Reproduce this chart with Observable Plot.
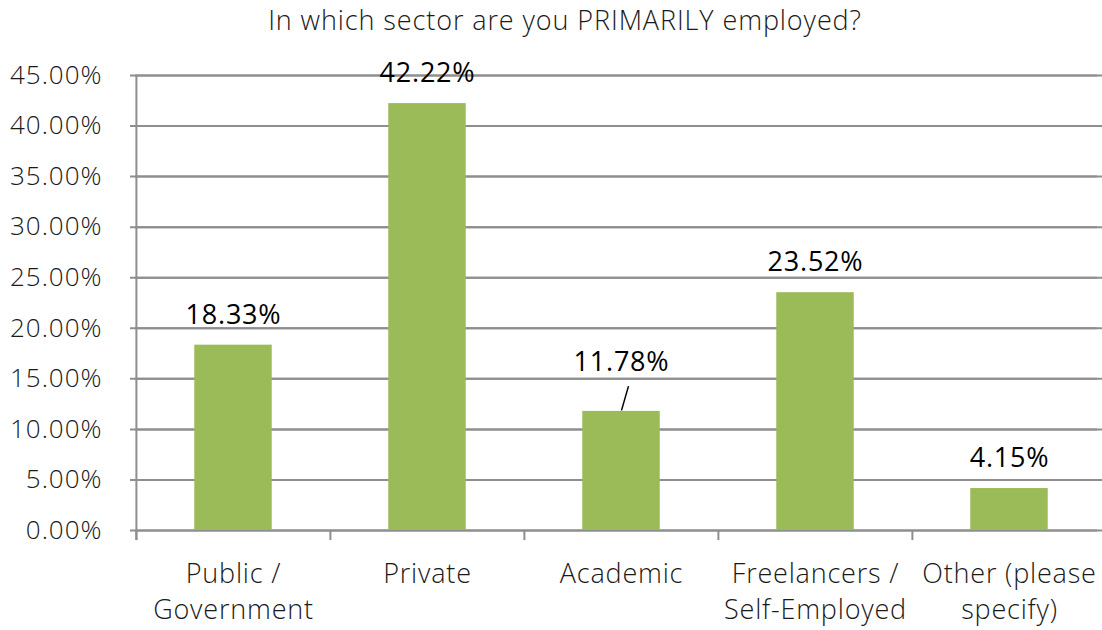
<!DOCTYPE html>
<html><head><meta charset="utf-8">
<script src="https://cdn.jsdelivr.net/npm/d3@7"></script>
<script src="https://cdn.jsdelivr.net/npm/@observablehq/plot@0.6"></script>
<style>
body{margin:0;background:#fff;overflow:hidden;font-family:"Open Sans",sans-serif}
#title{height:48px;line-height:40px;text-align:center;font-size:27px;letter-spacing:0.9px;font-weight:300;color:#1a1a1a;padding-left:28px;box-sizing:border-box;width:1102px;white-space:nowrap}
</style></head><body>
<div id="title">In which sector are you PRIMARILY employed?</div>
<div id="chart"></div>
<script>
const categories = ["Public / Government","Private","Academic","Freelancers / Self-Employed","Other (please specify)"];
const categoryLabels = ["Public /\nGovernment","Private","Academic","Freelancers /\nSelf-Employed","Other (please\nspecify)"];
const values = [18.33,42.22,11.78,23.52,4.15];
const valueLabels = ["18.33%","42.22%","11.78%","23.52%","4.15%"];
const yTicks = [0,5,10,15,20,25,30,35,40,45];
const yTickLabels = ["0.00%","5.00%","10.00%","15.00%","20.00%","25.00%","30.00%","35.00%","40.00%","45.00%"];
const leaderCategory = "Academic";

const data = categories.map((c,i)=>({category:c, value:values[i], label:valueLabels[i], tick:categoryLabels[i]}));
const x0 = 135, x1 = 1106;
const bw = (x1 - x0) / categories.length;
const grid = "#8e8e8e";
const green = "#9bbb59";
const slant = 7;
const slantCurve = (context) => ({
  i: 0,
  areaStart(){}, areaEnd(){},
  lineStart(){ this.i = 0; },
  lineEnd(){},
  point(x, y){ if (this.i++ === 0) context.moveTo(x, y); else context.lineTo(x + slant, y); }
});

const chart = Plot.plot({
  width: 1102, height: 582,
  marginTop: 27, marginBottom: 100, marginLeft: 135, marginRight: 0,
  style: {fontFamily: "'Open Sans', sans-serif", background: "#fff", overflow: "visible"},
  x: {type: "band", domain: categories, range: [x0, x1], padding: 0, axis: null},
  y: {domain: [0, 45], axis: null},
  marks: [
    Plot.ruleY(yTicks, {y: d=>d, stroke: grid, strokeWidth: 2}),
    Plot.tickY(yTicks, {y: d=>d, dx: -5, stroke: grid, strokeWidth: 2, x: null}),
    Plot.barY(data, {x: "category", y: "value", fill: green, insetLeft: bw*0.3, insetRight: bw*0.3}),
    Plot.ruleX(categories, {x: d=>d, dx: -bw/2, y1: 0, y2: -1, stroke: grid, strokeWidth: 2}),
    Plot.ruleX(categories.slice(0,1), {x: d=>d, dx: -bw/2, y1: -1, y2: 45, stroke: grid, strokeWidth: 2}),
    Plot.text(yTicks, {y: d=>d, text: (d,i)=>yTickLabels[i], frameAnchor: "left", textAnchor: "end", dx: -33, fontSize: 26, fontWeight: 300, fill: "#1a1a1a", style: "letter-spacing:1px"}),
    Plot.text(data.filter(d=>d.category!==leaderCategory), {x: "category", y: "value", text: "label", dy: -30, fontSize: 27, fill: "#000"}),
    Plot.text(data.filter(d=>d.category===leaderCategory), {x: "category", y: "value", text: "label", dy: -49, fontSize: 27, fill: "#000"}),
    Plot.link(data.filter(d=>d.category===leaderCategory), {x1: "category", x2: "category", y1: d=>d.value+0.1, y2: d=>d.value+2.5, stroke: "#000", strokeWidth: 1.5, curve: slantCurve}),
    Plot.text(data, {x: "category", y: 0, text: "tick", dy: 27, lineAnchor: "top", lineHeight: 1.33, fontSize: 27, fontWeight: 300, fill: "#1a1a1a"})
  ]
});
chart.querySelectorAll("text").forEach(t => t.style.letterSpacing = t.getAttribute("font-size") === "27" ? "0.8px" : t.style.letterSpacing);
chart.querySelectorAll("g[font-size]").forEach(g => { g.style.letterSpacing = g.getAttribute("font-weight") === "300" && g.getAttribute("font-size") === "26" ? "1px" : "0.8px"; });
document.getElementById("chart").append(chart);
</script>
</body></html>
